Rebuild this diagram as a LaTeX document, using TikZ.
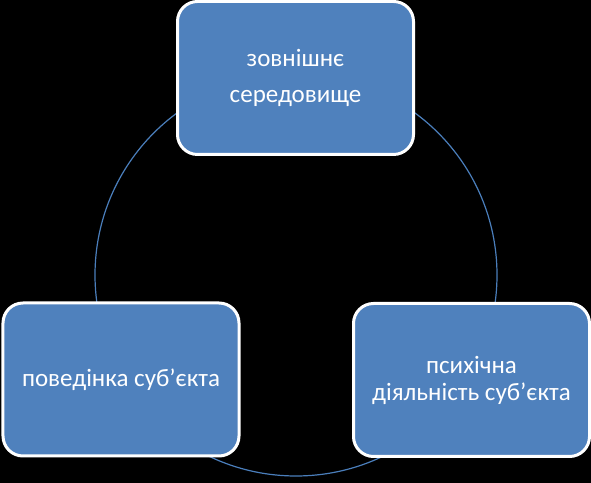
\documentclass[tikz,border=0pt]{standalone}
\usepackage{fontspec}
\setmainfont{Carlito}
\usepackage{xcolor}
\usetikzlibrary{positioning}
\definecolor{boxfill}{HTML}{4F81BD}
\definecolor{ring}{HTML}{4A7EBB}
\tikzset{
  stage/.style={draw=white, line width=3bp, fill=boxfill, rounded corners=20bp,
    align=center, text=white, inner sep=4bp, minimum width=236bp, minimum height=153bp,
    font=\fontsize{25bp}{27bp}\selectfont},
  cycle/.style={draw=ring, line width=1.2bp},
}
\begin{document}
\begin{tikzpicture}[x=1bp,y=1bp]
  \fill[black] (0,0) rectangle (591,483);
  \useasboundingbox (0,0) rectangle (591,483);
  % ring behind the three stages
  \coordinate (mid) at (296,208);
  \draw[cycle] (mid) circle[radius=201];
  \node[stage] (env) at (295.5,405) {зовнішнє\\[9bp]середовище};
  \node[stage] (beh) at (121,103.5) {поведінка суб’єкта};
  \node[stage] (psy) at (471.5,103) {психічна\\діяльність суб’єкта};
\end{tikzpicture}
\end{document}
